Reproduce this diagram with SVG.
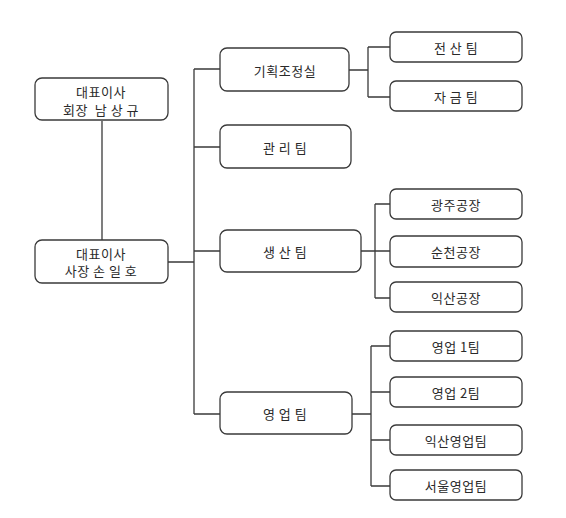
<svg xmlns="http://www.w3.org/2000/svg" width="566" height="518" viewBox="0 0 566 518">
<style>
.box{fill:#fff;stroke:#3a3a3a;stroke-width:1.3}
.ln{fill:none;stroke:#3a3a3a;stroke-width:1.3}
text{font-family:"Noto Sans CJK KR","Noto Sans",sans-serif;font-size:13px;letter-spacing:0.5px;fill:#2a2a2a;text-anchor:middle;dominant-baseline:central;white-space:pre}
</style>
<rect width="566" height="518" fill="#fff"/>
<g id="connectors">
<path class="ln" d="M102 121V240"/>
<path class="ln" d="M168 262H194M194 69V414M194 69H220M194 147H220M194 251H220M194 414H220"/>
<path class="ln" d="M349 70H368M368 47V97M368 47H390M368 97H390"/>
<path class="ln" d="M361 251H375M375 204V298M375 204H390M375 251H390M375 298H390"/>
<path class="ln" d="M352 414H371M371 346V486M371 346H390M371 392H390M371 440H390M371 486H390"/>
</g>
<g id="chairman"><rect class="box" x="35" y="78" width="133" height="42" rx="7"/><text x="101" y="91.5">대표이사</text><text x="101" y="109" xml:space="preserve">회장  남 상 규</text></g>
<g id="president"><rect class="box" x="35" y="240" width="133" height="43" rx="7"/><text x="101" y="253">대표이사</text><text x="101" y="270.5">사장 손 일 호</text></g>
<g id="planning"><rect class="box" x="220" y="48" width="129" height="43" rx="7"/><text x="285" y="70">기획조정실</text></g>
<g id="management"><rect class="box" x="220" y="125" width="131" height="43" rx="7"/><text x="285" y="147">관 리 팀</text></g>
<g id="production"><rect class="box" x="220" y="230" width="141" height="42" rx="7"/><text x="285" y="251">생 산 팀</text></g>
<g id="sales"><rect class="box" x="220" y="392" width="132" height="42" rx="7"/><text x="285" y="413">영 업 팀</text></g>
<g id="it"><rect class="box" x="390" y="32" width="132" height="30" rx="6"/><text x="456" y="47">전 산 팀</text></g>
<g id="finance"><rect class="box" x="390" y="81" width="132" height="30" rx="6"/><text x="456" y="96">자 금 팀</text></g>
<g id="gwangju"><rect class="box" x="390" y="189" width="132" height="30" rx="6"/><text x="456" y="204">광주공장</text></g>
<g id="suncheon"><rect class="box" x="390" y="236" width="132" height="31" rx="6"/><text x="456" y="251">순천공장</text></g>
<g id="iksan-factory"><rect class="box" x="390" y="282" width="132" height="30" rx="6"/><text x="456" y="297">익산공장</text></g>
<g id="sales1"><rect class="box" x="390" y="331" width="132" height="30" rx="6"/><text x="456" y="346">영업 1팀</text></g>
<g id="sales2"><rect class="box" x="390" y="377" width="132" height="30" rx="6"/><text x="456" y="392">영업 2팀</text></g>
<g id="iksan-sales"><rect class="box" x="390" y="425" width="132" height="30" rx="6"/><text x="456" y="440">익산영업팀</text></g>
<g id="seoul-sales"><rect class="box" x="390" y="470" width="132" height="30" rx="6"/><text x="456" y="485">서울영업팀</text></g>
</svg>
